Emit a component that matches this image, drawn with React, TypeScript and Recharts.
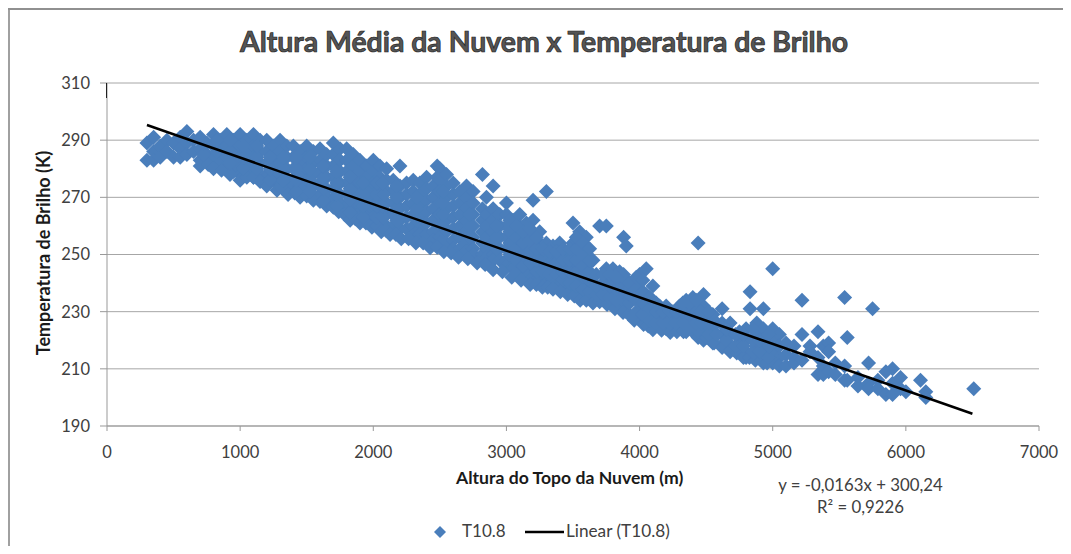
import React from "react";
import { ScatterChart, Scatter, XAxis, YAxis, CartesianGrid, Legend } from "recharts";

const title = "Altura Média da Nuvem x Temperatura de Brilho";
const xTicks = [0, 1000, 2000, 3000, 4000, 5000, 6000, 7000];
const yTicks = [190, 210, 230, 250, 270, 290, 310];

// Each column: a cloud-top height followed by brightness temperatures read at that height
const clusterA: number[][] = [
  [300, 289, 283], [350, 291, 286, 283], [400, 288, 284], [450, 290, 286], [500, 289, 284],
  [550, 291, 287, 284], [600, 293, 289, 285], [650, 290, 286], [700, 291, 287, 283], [750, 289, 285],
  [800, 292, 288, 284, 282], [850, 290, 286, 282], [900, 292, 288, 284, 280], [950, 290, 286, 282, 279],
  [1000, 292, 288, 284, 280, 278], [1050, 290, 286, 282, 278], [1100, 292, 288, 284, 280, 277],
  [1150, 290, 286, 282, 278], [1200, 290, 286, 282, 278, 277], [1250, 288, 284, 280, 276],
  [1300, 290, 286, 282, 278, 275], [1350, 288, 284, 280, 276], [1400, 288, 284, 280, 276, 274],
  [1450, 286, 282, 278, 274], [1500, 288, 284, 280, 276, 272], [1550, 286, 282, 278, 274],
  [1600, 287, 283, 279, 275, 271], [1650, 285, 281, 277, 273, 270], [1700, 289, 285, 281, 277, 273, 269],
  [1750, 287, 283, 279, 275, 271, 268], [1800, 287, 283, 279, 275, 271, 267], [1850, 285, 281, 277, 273, 269, 266],
  [1900, 283, 279, 275, 271, 267, 265], [1950, 281, 277, 273, 269, 265, 263], [2000, 283, 279, 275, 271, 267, 263],
];
const clusterB: number[][] = [
  [2050, 281, 277, 273, 269, 265, 261], [2100, 280, 276, 272, 268, 264, 260], [2150, 276, 272, 268, 264, 260],
  [2200, 281, 274, 270, 266, 262, 259], [2250, 275, 271, 267, 263, 259], [2300, 276, 272, 268, 264, 260, 257],
  [2350, 275, 271, 267, 263, 259, 257], [2400, 277, 273, 269, 265, 261, 257], [2450, 274, 270, 266, 262, 258, 255],
  [2480, 281, 277], [2500, 280, 276, 272, 268, 264, 260, 256, 254], [2550, 278, 274, 270, 266, 262, 258, 254],
  [2600, 275, 271, 267, 263, 259, 255, 252], [2650, 272, 268, 264, 260, 256, 252], [2700, 274, 270, 266, 262, 258, 254, 251],
  [2750, 272, 268, 264, 260, 256, 252, 250], [2820, 278, 266, 262, 258, 254, 250], [2850, 270, 264, 260, 256, 252, 249],
  [2900, 274, 266, 262, 258, 254, 250, 248], [2950, 264, 260, 256, 252, 248], [3000, 268, 264, 260, 256, 252, 248, 246],
  [3050, 262, 258, 254, 250, 246, 245], [3100, 264, 260, 256, 252, 248, 244], [3150, 261, 257, 253, 249, 245, 243],
  [3200, 269, 262, 258, 254, 250, 246, 242], [3250, 258, 254, 250, 246, 242], [3300, 272, 254, 250, 246, 242, 240],
];
const clusterC: number[][] = [
  [3350, 253, 249, 245, 241], [3400, 254, 250, 246, 242, 239], [3450, 250, 246, 242, 239],
  [3500, 261, 254, 250, 246, 242, 238], [3550, 258, 252, 248, 244, 240, 237], [3600, 256, 250, 246, 242, 238, 236],
  [3650, 248, 240, 236, 235], [3700, 260, 238, 235], [3750, 260, 245, 240, 236, 234], [3800, 245, 241, 237, 234],
  [3850, 244, 240, 236, 232], [3880, 256, 243, 239, 235, 232], [3900, 253, 241, 237, 233, 230], [4000, 243, 238, 234, 230, 228],
  [4050, 245, 236, 232, 228, 226], [4100, 239, 234, 230, 226], [4150, 232, 228, 225], [4200, 232, 228, 224],
  [4250, 230, 226, 224], [4300, 232, 228, 224], [4350, 234, 230, 226, 223], [4400, 235, 231, 227, 223],
  [4440, 254, 232, 228, 224, 221], [4480, 236, 232, 228, 224, 220], [4550, 229, 225, 221, 219],
  [4620, 231, 226, 222, 218], [4680, 226, 222, 218, 216],
];
const clusterD: number[][] = [
  [4750, 223, 219, 216], [4800, 224, 220, 216, 214], [4830, 237, 231], [4880, 226, 222, 218, 214],
  [4930, 231, 224, 220, 216, 212], [5000, 245, 224, 220, 216, 212], [5050, 222, 218, 214, 211], [5100, 219, 215, 211],
  [5160, 218, 214, 212], [5220, 234, 222, 213], [5280, 218, 216], [5340, 223, 214, 208], [5380, 218, 211, 208],
  [5420, 219, 216, 209], [5470, 212, 208], [5540, 235, 211, 206], [5560, 221, 206], [5640, 207, 204],
  [5720, 212, 205, 203], [5750, 231], [5790, 206, 203], [5850, 209, 201], [5900, 210, 205, 201],
  [5960, 207, 203], [6000, 202], [6110, 206], [6150, 202, 200], [6510, 203],
];
// Lower edge of the cloud and points inside it, read separately
const lowerEdge: number[][] = [
  [700, 281], [760, 281.5], [800, 280], [860, 279.5], [924, 278], [1000, 276], [1050, 277], [1100, 277], [1150, 275.5], [1200, 274],
  [1277, 272.5], [1320, 273], [1360, 271], [1410, 271.5], [1450, 270], [1500, 270.5], [1550, 269], [1600, 268.5], [1650, 267],
  [1700, 266.5], [1740, 265], [1785, 264], [1826, 262], [1865, 262.5], [1900, 261], [1945, 261], [1990, 259.5], [2025, 260],
  [2060, 258], [2095, 258.5], [2126, 257], [2170, 257], [2210, 255.5], [2265, 255.5], [2320, 254], [2375, 254], [2427, 252.4],
  [2480, 252.5], [2530, 251], [2585, 250.5], [2640, 249], [2710, 248.5], [2780, 247], [2840, 246.5], [2900, 244.7], [2970, 244],
  [3040, 242], [3110, 241], [3178, 239.5], [3225, 239.5], [3270, 238.5], [3310, 238.5], [3350, 237.8], [3405, 237], [3460, 236],
  [3510, 235.5], [3554, 234], [3600, 234], [3650, 233], [3700, 233.5], [3756, 232.5], [3815, 231], [3876, 229.7], [3920, 229], [3960, 227],
  [4030, 225.5], [4065, 225], [4100, 223.7], [4165, 223.5], [4230, 222.7], [4280, 223], [4330, 223], [4432, 223.7], [4500, 221], [4560, 219],
  [4620, 217.5], [4680, 216.4], [4730, 215.5], [4780, 214], [4825, 214], [4870, 213], [4915, 213], [4958, 212],
];
const innerFill: number[][] = [
  [725, 285, 289], [825, 286, 290], [925, 282, 286, 290], [1025, 280, 284, 288], [1125, 280, 284, 288], [1225, 276, 280, 284],
  [1325, 276, 280, 284], [1425, 272, 276, 280, 284], [1525, 272, 276, 280, 284], [1625, 269, 273, 277, 281], [1725, 267, 271, 275, 279],
  [1825, 265, 269, 273, 277], [1925, 263, 267, 271, 275], [2025, 263, 267, 271, 275],
  [2075, 263, 267, 271, 275], [2175, 262, 266, 270, 274], [2325, 262, 266, 270], [2525, 260, 264, 268, 272], [2725, 256, 260, 264],
  [2925, 252, 256, 260], [3025, 250, 254, 258, 262], [3075, 248, 252, 256, 260], [3125, 246, 250, 254, 258],
  [3175, 247, 251, 255, 259], [3225, 244, 248, 252, 256], [3275, 244, 248, 252], [3325, 243, 247, 251],
  [3375, 243, 247, 251], [3425, 241, 244, 248, 252], [3475, 240, 244, 248, 252], [3525, 239, 244, 248, 252, 256],
  [3575, 238, 242, 246, 250, 254], [3625, 237, 241, 244, 248, 252], [3675, 236, 239, 243], [3725, 236, 240, 243],
  [3775, 235, 239, 243], [3825, 234, 238, 242], [3925, 233, 236, 240], [3975, 230, 234, 238, 242], [4025, 229, 233, 237, 241],
  [4075, 227, 231, 235], [4125, 226, 230, 233], [4175, 226, 230], [4225, 226, 230], [4275, 226, 230],
  [4325, 226, 230, 233], [4375, 225, 229, 233], [4425, 226, 230, 234], [4460, 226, 230], [4520, 222, 226, 230],
  [4580, 222, 226], [4650, 220, 224], [4720, 218, 222], [4780, 218, 222], [4850, 216, 220, 224], [4900, 216, 220], [4970, 214, 218, 222],
];

const trendX = [300, 6500];
const trendY = [295.3, 194.3];

const expand = (cols: number[][]) => cols.flatMap(([x, ...ts]) => ts.map((y) => ({ x, y })));
const scatterData = expand([...clusterA, ...clusterB, ...clusterC, ...clusterD, ...lowerEdge, ...innerFill]);
const trendData = trendX.map((x, i) => ({ x, y: trendY[i] }));

const font = "Lato, Liberation Sans, sans-serif";
const blue = "#4a7ebb";
const textColor = "#404040";

const Diamond = (p: any) => {
  const r = 7.5;
  const cx = p.cx ?? p.x + p.width / 2;
  const cy = p.cy ?? p.y + p.height / 2;
  return <polygon points={`${cx},${cy - r} ${cx + r},${cy} ${cx},${cy + r} ${cx - r},${cy}`} fill={blue} />;
};

const LegendBox = () => (
  <div style={{ position: "absolute", left: 0, top: 0, width: 1055, height: 538, pointerEvents: "none" }}>
    <svg style={{ position: "absolute", left: 426, top: 517 }} width={150} height={16}>
      <polygon points="6,1 12,7 6,13 0,7" fill={blue} />
      <line x1={91} x2={130} y1={7} y2={7} stroke="#000" strokeWidth={2.5} />
    </svg>
    <span style={{ position: "absolute", left: 454, top: 512, fontSize: 17, color: textColor }}>T10.8</span>
    <span style={{ position: "absolute", left: 558, top: 512, fontSize: 17.2, color: textColor }}>Linear (T10.8)</span>
  </div>
);

export default function App() {
  return (
    <div style={{ position: "relative", width: 1055, height: 538, fontFamily: font }}>
      <div style={{ position: "absolute", left: 0, top: 0, width: 2, height: 546, background: "#a0a0a0" }} />
      <div style={{ position: "absolute", left: 0, top: 0, width: 1063, height: 2, background: "#909090" }} />
      <div style={{ position: "absolute", left: 0, top: 16, width: 1072, textAlign: "center", fontSize: 28.4, fontWeight: 700, color: "#555", WebkitTextStroke: "0.7px #222", whiteSpace: "nowrap" }}>
        {title}
      </div>
      <ScatterChart width={1055} height={538} margin={{ top: 75, right: 24, bottom: 75, left: 98 }} style={{ position: "absolute", left: 0, top: 0 }}>
        <CartesianGrid horizontal vertical={false} stroke="#a6a6a6" strokeWidth={1} />
        <XAxis type="number" dataKey="x" domain={[0, 7000]} ticks={xTicks} stroke="#999" tickSize={5}
          tick={{ fill: textColor, fontSize: 16.5, fontFamily: font }} tickMargin={15} height={45} />
        <YAxis type="number" dataKey="y" domain={[190, 310]} ticks={yTicks} stroke="#999" tickSize={7} width={1}
          tick={{ fill: textColor, fontSize: 16.5, fontFamily: font }} tickMargin={10} />
        <Scatter name="T10.8" data={scatterData} fill={blue} shape={Diamond} legendType="diamond" isAnimationActive={false} />
        <Scatter name="Linear (T10.8)" data={trendData} fill="none" line={{ stroke: "#000", strokeWidth: 2.5 }} shape={() => <g />} legendType="line" isAnimationActive={false} />
        <Legend content={LegendBox} wrapperStyle={{ left: 0, top: 0, bottom: "auto", width: 0, height: 0 }} />
      </ScatterChart>
      <div style={{ position: "absolute", left: 98, top: 75, width: 1, height: 15, background: "#222" }} />
      <div style={{ position: "absolute", left: 448, top: 459, fontSize: 17.6, fontWeight: 700, color: "#1a1a1a", whiteSpace: "nowrap" }}>Altura do Topo da Nuvem (m)</div>
      <div style={{ position: "absolute", left: 35, top: 245, fontSize: 18, fontWeight: 700, color: "#1a1a1a", transform: "translate(-50%,-50%) rotate(-90deg)", whiteSpace: "nowrap" }}>Temperatura de Brilho (K)</div>
      <div style={{ position: "absolute", left: 770, top: 466, fontSize: 16.8, color: textColor, textAlign: "center", width: 165, lineHeight: "22px" }}>
        <div>y = -0,0163x + 300,24</div>
        <div>R² = 0,9226</div>
      </div>
    </div>
  );
}
